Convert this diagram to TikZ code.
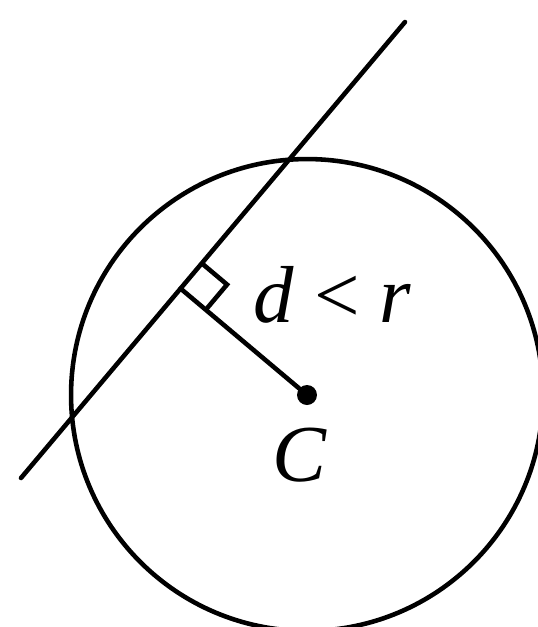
\documentclass[tikz,border=0pt]{standalone}
\usepackage{fontspec}
\setmainfont{Liberation Serif}
\usepackage{tikz}
\usetikzlibrary{calc}

\begin{document}
\begin{tikzpicture}[
    x=0.02cm, y=-0.02cm,
    geo/.style={line width=2.6pt, line cap=round},
    lbl/.style={inner sep=0pt, font=\fontsize{46}{50}\selectfont}
]
\useasboundingbox (0,0) rectangle (538,627);
\clip (0,0) rectangle (538,627);
\coordinate (C) at (307,395);
\coordinate (A) at (21,478);
\coordinate (B) at (405,22);
\coordinate (F) at ($(A)!(C)!(B)$);
\coordinate (P) at ($(F)!0.66cm!(B)$);
\coordinate (Q) at ($(F)!0.66cm!(C)$);

\draw[geo] (C) circle [radius=4.72cm];
\draw[geo] (A) -- (B);
\draw[geo] (F) -- (C);
\draw[geo, line cap=butt] (P) -- ($(P)+(Q)-(F)$) -- (Q);
\fill (C) circle [radius=0.2cm];

\node[lbl, anchor=base west] (dist) at (253,322) {\textit{d} < \textit{r}};
\node[lbl, anchor=base] (ctr) at (300,481) {\textit{C}};
\end{tikzpicture}
\end{document}
